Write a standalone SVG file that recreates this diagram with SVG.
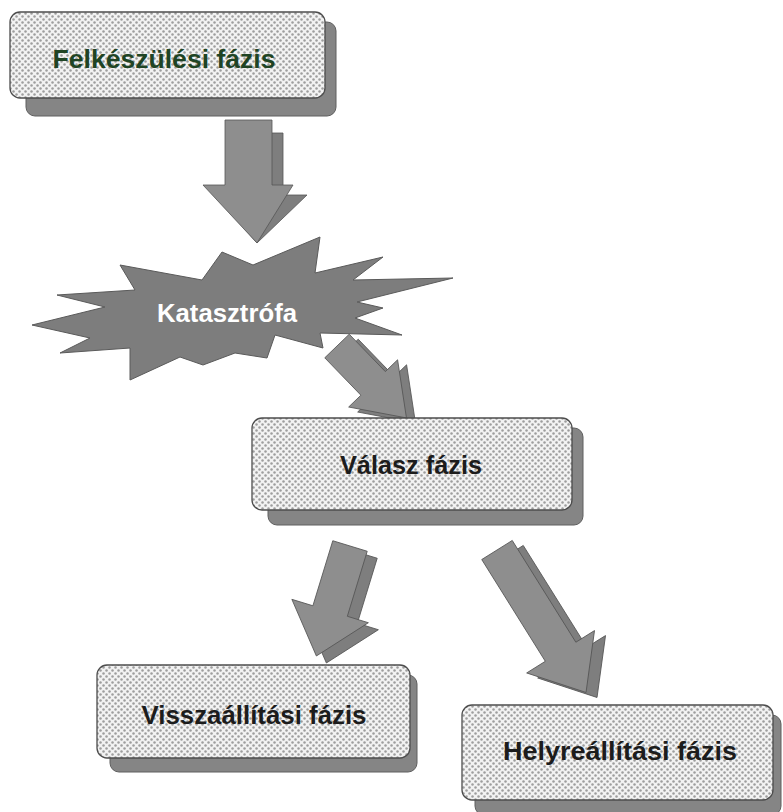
<svg xmlns="http://www.w3.org/2000/svg" width="783" height="812" viewBox="0 0 783 812">
  <defs>
    <!-- dotted light-grey fill used on the phase boxes -->
    <pattern id="dots" width="6" height="6" patternUnits="userSpaceOnUse">
      <rect width="6" height="6" fill="#f2f2f2"/>
      <circle cx="1.5" cy="1.5" r="1.25" fill="#9d9d9d"/>
      <circle cx="4.5" cy="4.5" r="1.25" fill="#9d9d9d"/>
    </pattern>
    <!-- block arrow pointing along +x, tail at origin -->
    <polygon id="arrowShort" points="0,-17 52,-17 52,-34 100,0 52,34 52,17 0,17"/>
    <polygon id="arrowMid" points="0,-18 68,-18 68,-40 115,0 68,40 68,18 0,18"/>
    <polygon id="arrowLong" points="0,-18 120,-18 120,-40 168,0 120,40 120,18 0,18"/>
  </defs>
  <style>
    .face { fill: url(#dots); stroke: #4d4d4d; stroke-width: 1.3; }
    .depth { fill: #858585; stroke: #5e5e5e; stroke-width: 1; }
    .label { font-family: "Liberation Sans", Arial, sans-serif; font-weight: bold; font-size: 25px; text-anchor: middle; fill: #1c1c1c; }
    .arrow { fill: #8e8e8e; stroke: #555555; stroke-width: 0.8; }
    .arrowDepth { fill: #7e7e7e; stroke: #555555; stroke-width: 0.8; }
    .burst { fill: #7d7d7d; stroke: #5a5a5a; stroke-width: 1; }
  </style>

  <rect width="783" height="812" fill="#ffffff"/>

  <!-- connectors -->
  <g id="connectors">
    <!-- preparation to catastrophe -->
    <g id="arrow-prep-cat">
      <polygon class="arrowDepth" points="237,133 283,133 283,195 307,195 257,243 215,195 237,195"/>
      <polygon class="arrow" points="225,120 272,120 272,185 293,185 257,243 203,185 225,185"/>
    </g>
    <!-- catastrophe to response -->
    <g id="arrow-cat-resp">
      <use href="#arrowShort" class="arrowDepth" transform="translate(346,351) rotate(46)"/>
      <use href="#arrowShort" class="arrow" transform="translate(337,346) rotate(46)"/>
    </g>
    <!-- response to restoration -->
    <g id="arrow-resp-rest">
      <use href="#arrowMid" class="arrowDepth" transform="translate(360,553) rotate(107)"/>
      <use href="#arrowMid" class="arrow" transform="translate(350,546) rotate(107)"/>
    </g>
    <!-- response to recovery -->
    <g id="arrow-resp-recov">
      <use href="#arrowLong" class="arrowDepth" transform="translate(508,555) rotate(58)"/>
      <use href="#arrowLong" class="arrow" transform="translate(497,550) rotate(58)"/>
    </g>
  </g>

  <!-- preparation phase -->
  <g id="node-preparation">
    <rect class="depth" x="26" y="22" width="310" height="94" rx="9"/>
    <rect class="face" x="10" y="12" width="315" height="86" rx="10"/>
    <text class="label" x="164" y="68" style="fill:#1f4424" textLength="223" lengthAdjust="spacingAndGlyphs">Felkészülési fázis</text>
  </g>

  <!-- catastrophe -->
  <g id="node-catastrophe">
    <polygon class="burst" points="57,295 135,290 120,265 202,280 222,252 253,265 320,237 315,273 383,257 353,280 453,278 357,302 383,308 355,318 402,335 320,333 323,348 275,335 267,358 235,353 203,365 180,357 130,380 130,348 60,353 90,338 32,325 105,307"/>
    <text class="label" x="227" y="322" style="fill:#ffffff" font-size="26" textLength="140" lengthAdjust="spacingAndGlyphs">Katasztrófa</text>
  </g>

  <!-- response phase -->
  <g id="node-response">
    <rect class="depth" x="268" y="428" width="315" height="97" rx="9"/>
    <rect class="face" x="252" y="418" width="320" height="92" rx="10"/>
    <text class="label" x="411" y="474" textLength="142" lengthAdjust="spacingAndGlyphs">Válasz fázis</text>
  </g>

  <!-- restoration phase -->
  <g id="node-restoration">
    <rect class="depth" x="110" y="675" width="307" height="97" rx="9"/>
    <rect class="face" x="97" y="665" width="313" height="93" rx="10"/>
    <text class="label" x="254" y="724" textLength="225" lengthAdjust="spacingAndGlyphs">Visszaállítási fázis</text>
  </g>

  <!-- recovery phase -->
  <g id="node-recovery">
    <rect class="depth" x="475" y="715" width="306" height="100" rx="9"/>
    <rect class="face" x="462" y="705" width="311" height="95" rx="10"/>
    <text class="label" x="620" y="760" textLength="234" lengthAdjust="spacingAndGlyphs">Helyreállítási fázis</text>
  </g>
</svg>
